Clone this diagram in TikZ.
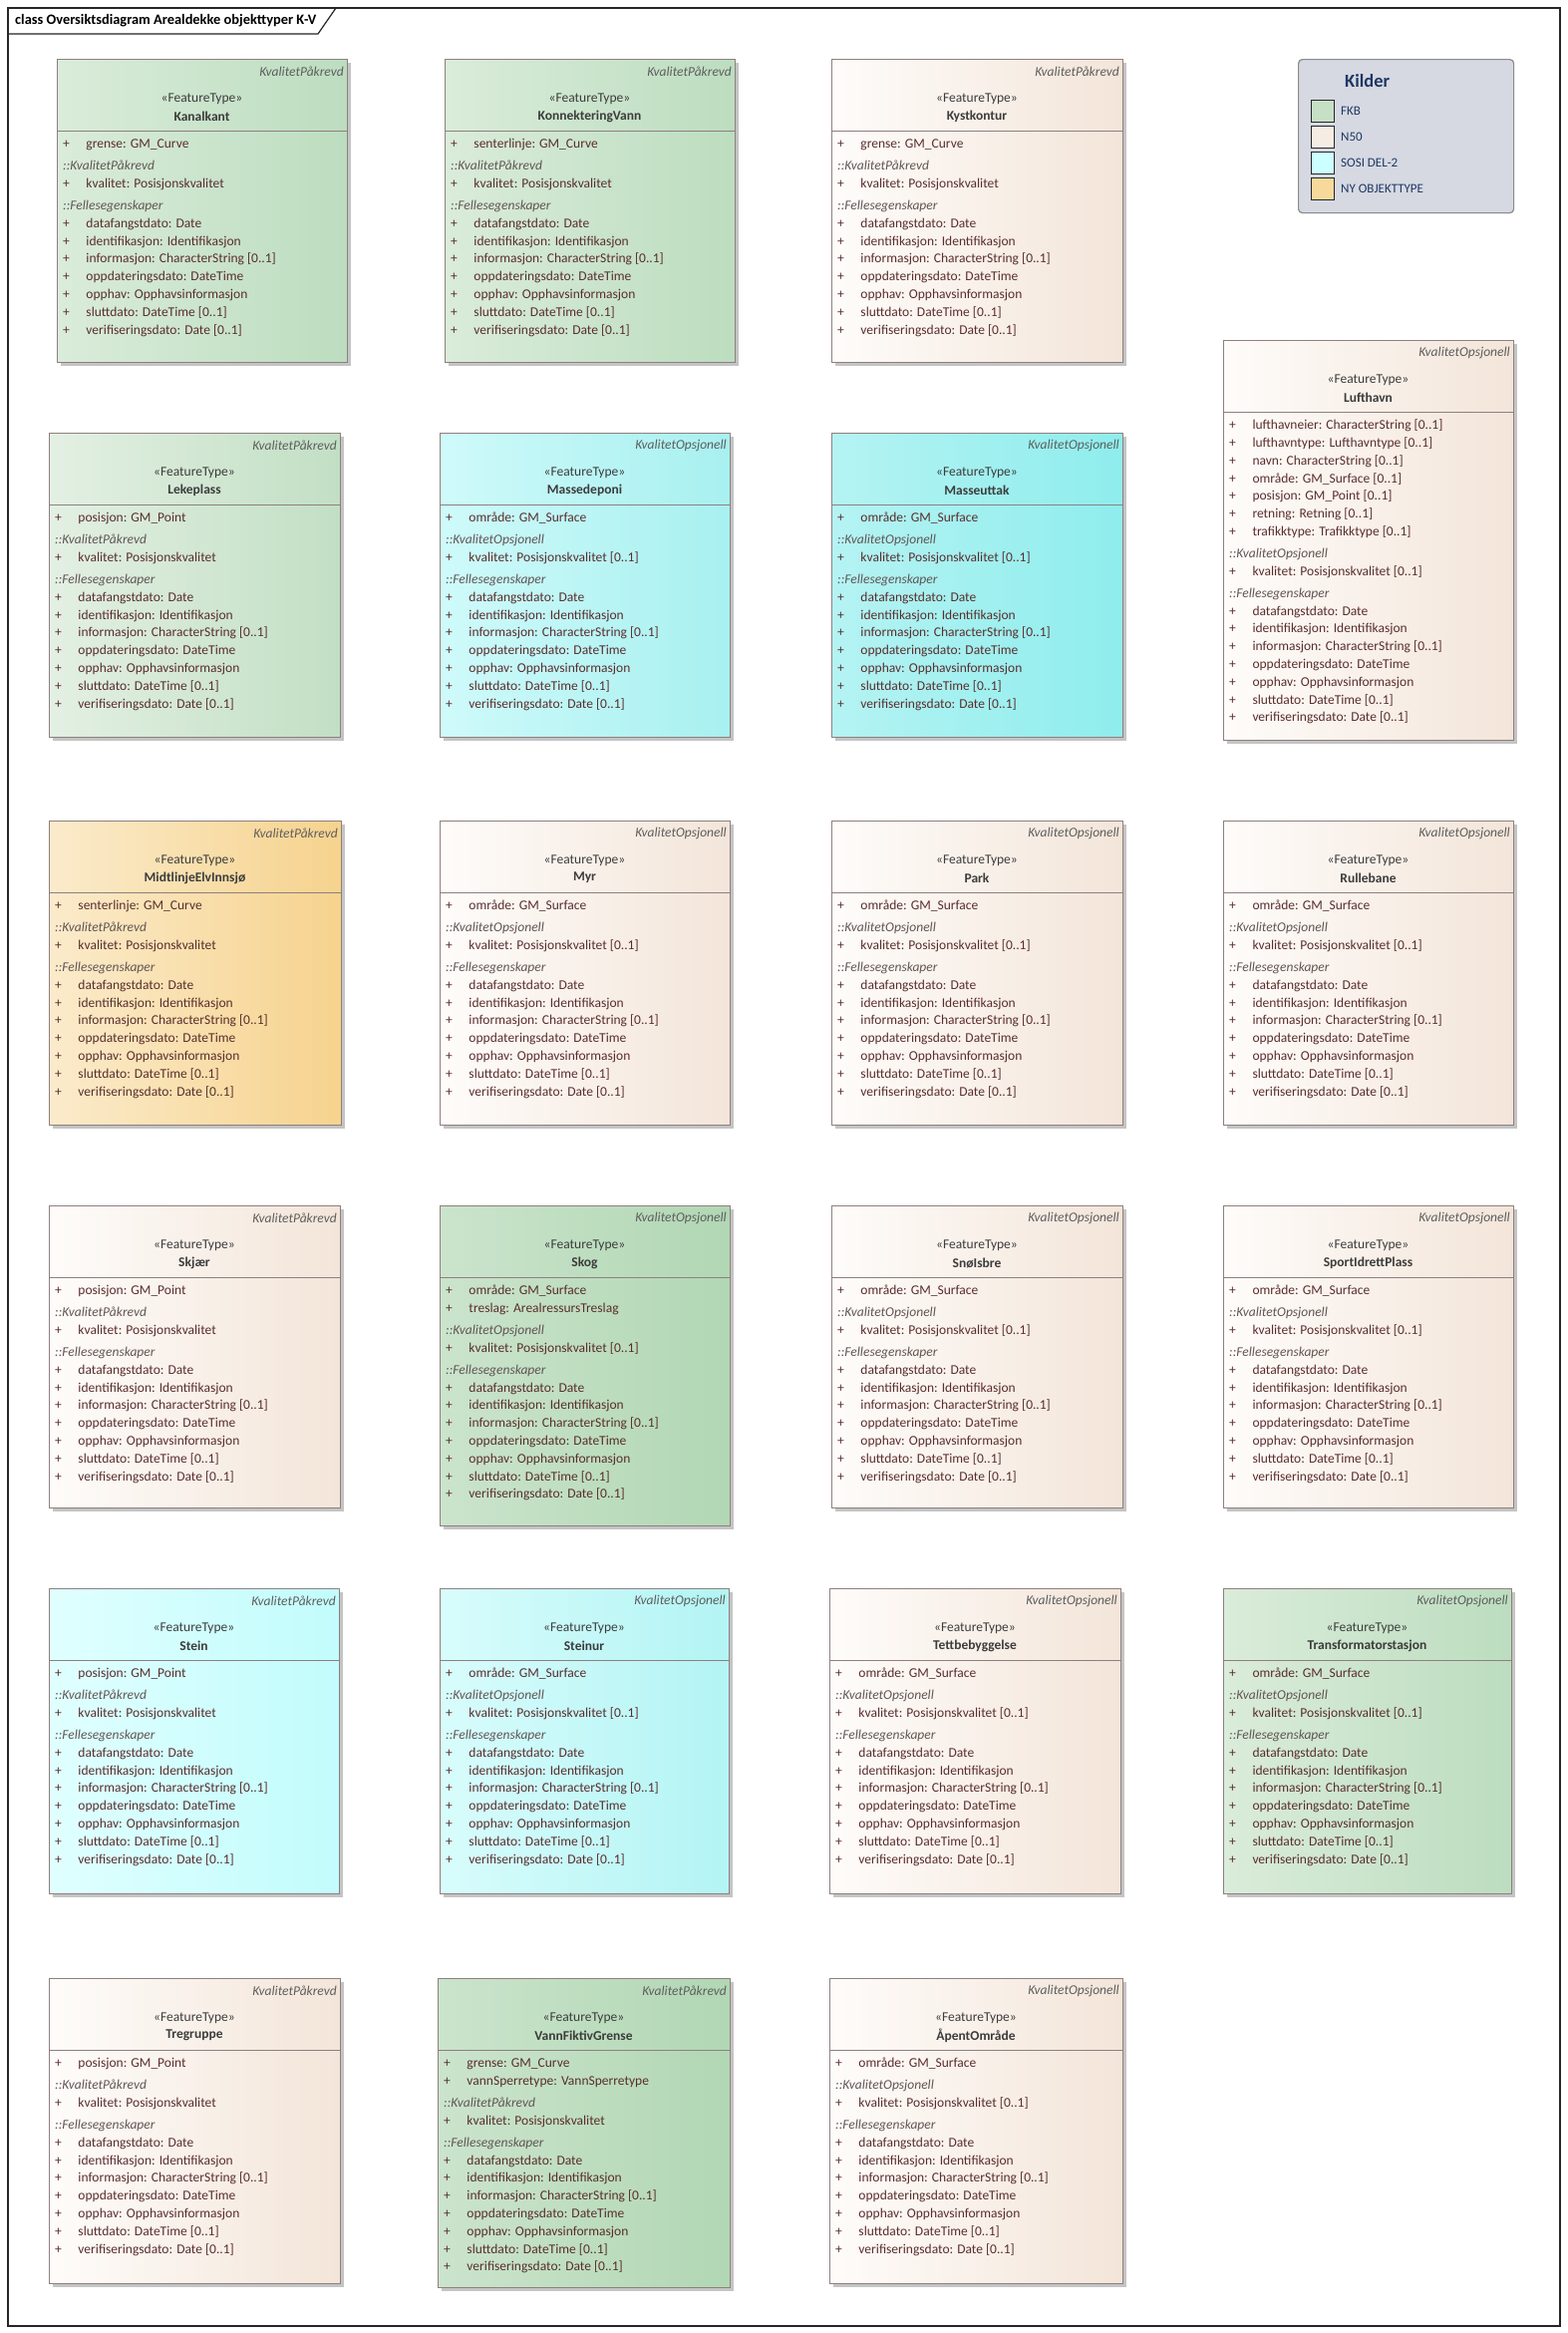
\documentclass[tikz,border=0pt]{standalone}
\usepackage{fontspec}
\setmainfont{Carlito}
\definecolor{bordc}{HTML}{8F7F7F}
\definecolor{shadowc}{HTML}{C4C4C4}
\definecolor{attrc}{HTML}{5A2E2E}
\definecolor{headc}{HTML}{3C3C3C}
\definecolor{tagc}{HTML}{5E5E5E}
\definecolor{secc}{HTML}{625555}
\definecolor{fkbL}{HTML}{DAECDA}\definecolor{fkbR}{HTML}{BCDDBF}
\definecolor{fkbLL}{HTML}{E3F0E3}\definecolor{fkbLR}{HTML}{C2DFC4}
\definecolor{fkbDL}{HTML}{CBE4CC}\definecolor{fkbDR}{HTML}{B1D7B4}
\definecolor{nL}{HTML}{FEFCFA}\definecolor{nR}{HTML}{F3E5D9}
\definecolor{sML}{HTML}{CFFAFA}\definecolor{sMR}{HTML}{A8F0F0}
\definecolor{sSL}{HTML}{B5F3F3}\definecolor{sSR}{HTML}{8FEDED}
\definecolor{sLL}{HTML}{E0FFFF}\definecolor{sLR}{HTML}{C2FCFC}
\definecolor{sL2L}{HTML}{D8FCFC}\definecolor{sL2R}{HTML}{B3F4F4}
\definecolor{nyL}{HTML}{FBEBCB}\definecolor{nyR}{HTML}{F6D38E}
\definecolor{legfill}{HTML}{D6D9E2}
\definecolor{legbord}{HTML}{8A8A8A}
\definecolor{legtext}{HTML}{1F3864}
\definecolor{swFKB}{HTML}{C6E0C6}
\definecolor{swN}{HTML}{F5EDE3}
\definecolor{swS}{HTML}{CCFFFF}
\definecolor{swNY}{HTML}{F7DA9B}
\newcommand{\attrline}[1]{\makebox[23.3pt][l]{+}#1}
\newcommand{\secline}[1]{\textit{\color{secc}#1}}
\newcommand{\kvalP}{\\[4.2pt]\secline{::KvalitetPåkrevd}\\\attrline{kvalitet: Posisjonskvalitet}}
\newcommand{\kvalO}{\\[4.2pt]\secline{::KvalitetOpsjonell}\\\attrline{kvalitet: Posisjonskvalitet [0..1]}}
\newcommand{\felles}{\\[4.2pt]\secline{::Fellesegenskaper}\\\attrline{datafangstdato: Date}\\\attrline{identifikasjon: Identifikasjon}\\\attrline{informasjon: CharacterString [0..1]}\\\attrline{oppdateringsdato: DateTime}\\\attrline{opphav: Opphavsinformasjon}\\\attrline{sluttdato: DateTime [0..1]}\\\attrline{verifiseringsdato: Date [0..1]}}
\tikzset{
  classbox/.style={draw=bordc, line width=1pt, inner sep=0pt, outer sep=0pt, anchor=north west, rectangle},
  fkb/.style={left color=fkbL, right color=fkbR},
  fkbl/.style={left color=fkbLL, right color=fkbLR},
  fkbd/.style={left color=fkbDL, right color=fkbDR},
  nfifty/.style={left color=nL, right color=nR},
  sosim/.style={left color=sML, right color=sMR},
  sosis/.style={left color=sSL, right color=sSR},
  sosil/.style={left color=sLL, right color=sLR},
  sosilb/.style={left color=sL2L, right color=sL2R},
  nyobj/.style={left color=nyL, right color=nyR},
  tagst/.style={font={\itshape\fontsize{13.5}{16}\selectfont}, text=tagc, inner sep=0pt, anchor=east},
  stereost/.style={font={\fontsize{13.5}{16}\selectfont}, text=headc, inner sep=0pt},
  namest/.style={font={\bfseries\fontsize{13.5}{16}\selectfont}, text=headc, inner sep=0pt},
  bodyst/.style={font={\fontsize{13.5}{17.8}\selectfont}, text=attrc, inner sep=0pt, anchor=north west, align=left},
  swatch/.style={draw=black!85, line width=1pt, minimum width=23pt, minimum height=22pt, inner sep=0pt},
  legtxt/.style={font={\fontsize{13}{15}\selectfont}, text=legtext, anchor=west, inner sep=0pt}
}
% #1 name, #2 L, #3 T, #4 R, #5 B, #6 colour style, #7 tag, #8 title, #9 body
\newcommand{\umlbox}[9]{%
  \fill[shadowc] (#2+4,#3+4) rectangle (#4+4,#5+4);
  \node[classbox,#6,minimum width={#4-#2},minimum height={#5-#3}] (#1) at (#2,#3) {};
  \draw[bordc, line width=1pt] ([yshift=-72pt]#1.north west) -- ([yshift=-72pt]#1.north east);
  \node[tagst] (#1-tag) at ([xshift=-3pt,yshift=-12.5pt]#1.north east) {#7};
  \node[stereost] (#1-st) at ([yshift=-40pt]#1.north) {«FeatureType»};
  \node[namest] (#1-nm) at ([yshift=-57.5pt]#1.north) {#8};
  \node[bodyst] (#1-body) at ([xshift=6pt,yshift=-78.5pt]#1.north west) {\rule{0pt}{11pt}#9};
}
\begin{document}
\begin{tikzpicture}[x=1pt,y=-1pt]
\useasboundingbox (0,0) rectangle (1573,2340);
\fill[white] (0,0) rectangle (1573,2340);
% frame
\node[draw=black!85, line width=1.2pt, minimum width=1557pt, minimum height=2325pt, anchor=north west, inner sep=0pt, outer sep=0pt] (frame) at (8,8) {};
\draw[black!85, line width=1.2pt] (8,34) -- (319,34) -- (337,8);
\node[font={\bfseries\fontsize{14.4}{16}\selectfont}, anchor=west, inner sep=0pt] (title) at (15,21) {class Oversiktsdiagram Arealdekke objekttyper K-V};

% legend
\node[draw=legbord, line width=1.2pt, fill=legfill, rounded corners=4pt, minimum width=216pt, minimum height=154pt, anchor=north west, inner sep=0pt] (legend) at (1302,59) {};
\node[font={\bfseries\fontsize{18.5}{20}\selectfont}, text=legtext, anchor=west, inner sep=0pt] (legend-title) at (1349,81) {Kilder};
\node[swatch, fill=swFKB] (sw1) at (1326.5,111) {};
\node[swatch, fill=swN] (sw2) at (1326.5,137.5) {};
\node[swatch, fill=swS] (sw3) at (1326.5,163) {};
\node[swatch, fill=swNY] (sw4) at (1326.5,189) {};
\node[legtxt] (lb1) at (1345,111) {FKB};
\node[legtxt] (lb2) at (1345,137.5) {N50};
\node[legtxt] (lb3) at (1345,163) {SOSI DEL-2};
\node[legtxt] (lb4) at (1345,189) {NY OBJEKTTYPE};

% row 1
\umlbox{kanalkant}{57}{59}{348}{363}{fkb}{KvalitetPåkrevd}{Kanalkant}{\attrline{grense: GM\_Curve}\kvalP\felles}
\umlbox{konnektering}{446}{59}{737}{363}{fkb}{KvalitetPåkrevd}{KonnekteringVann}{\attrline{senterlinje: GM\_Curve}\kvalP\felles}
\umlbox{kystkontur}{834}{59}{1126}{363}{nfifty}{KvalitetPåkrevd}{Kystkontur}{\attrline{grense: GM\_Curve}\kvalP\felles}
\umlbox{lufthavn}{1227}{341}{1518}{742}{nfifty}{KvalitetOpsjonell}{Lufthavn}{\attrline{lufthavneier: CharacterString [0..1]}\\\attrline{lufthavntype: Lufthavntype [0..1]}\\\attrline{navn: CharacterString [0..1]}\\\attrline{område: GM\_Surface [0..1]}\\\attrline{posisjon: GM\_Point [0..1]}\\\attrline{retning: Retning [0..1]}\\\attrline{trafikktype: Trafikktype [0..1]}\kvalO\felles}
% row 2
\umlbox{lekeplass}{49}{434}{341}{739}{fkbl}{KvalitetPåkrevd}{Lekeplass}{\attrline{posisjon: GM\_Point}\kvalP\felles}
\umlbox{massedeponi}{441}{434}{732}{739}{sosim}{KvalitetOpsjonell}{Massedeponi}{\attrline{område: GM\_Surface}\kvalO\felles}
\umlbox{masseuttak}{834}{434}{1126}{739}{sosis}{KvalitetOpsjonell}{Masseuttak}{\attrline{område: GM\_Surface}\kvalO\felles}
% row 3
\umlbox{midtlinje}{49}{823}{342}{1128}{nyobj}{KvalitetPåkrevd}{MidtlinjeElvInnsjø}{\attrline{senterlinje: GM\_Curve}\kvalP\felles}
\umlbox{myr}{441}{823}{732}{1128}{nfifty}{KvalitetOpsjonell}{Myr}{\attrline{område: GM\_Surface}\kvalO\felles}
\umlbox{park}{834}{823}{1126}{1128}{nfifty}{KvalitetOpsjonell}{Park}{\attrline{område: GM\_Surface}\kvalO\felles}
\umlbox{rullebane}{1227}{823}{1518}{1128}{nfifty}{KvalitetOpsjonell}{Rullebane}{\attrline{område: GM\_Surface}\kvalO\felles}
% row 4
\umlbox{skjaer}{49}{1209}{341}{1512}{nfifty}{KvalitetPåkrevd}{Skjær}{\attrline{posisjon: GM\_Point}\kvalP\felles}
\umlbox{skog}{441}{1209}{732}{1530}{fkbd}{KvalitetOpsjonell}{Skog}{\attrline{område: GM\_Surface}\\\attrline{treslag: ArealressursTreslag}\kvalO\felles}
\umlbox{snoisbre}{834}{1209}{1126}{1512}{nfifty}{KvalitetOpsjonell}{SnøIsbre}{\attrline{område: GM\_Surface}\kvalO\felles}
\umlbox{sportidrett}{1227}{1209}{1518}{1512}{nfifty}{KvalitetOpsjonell}{SportIdrettPlass}{\attrline{område: GM\_Surface}\kvalO\felles}
% row 5
\umlbox{stein}{49}{1593}{340}{1899}{sosil}{KvalitetPåkrevd}{Stein}{\attrline{posisjon: GM\_Point}\kvalP\felles}
\umlbox{steinur}{441}{1593}{731}{1899}{sosilb}{KvalitetOpsjonell}{Steinur}{\attrline{område: GM\_Surface}\kvalO\felles}
\umlbox{tettbebyggelse}{832}{1593}{1124}{1899}{nfifty}{KvalitetOpsjonell}{Tettbebyggelse}{\attrline{område: GM\_Surface}\kvalO\felles}
\umlbox{transformator}{1227}{1593}{1516}{1899}{fkb}{KvalitetOpsjonell}{Transformatorstasjon}{\attrline{område: GM\_Surface}\kvalO\felles}
% row 6
\umlbox{tregruppe}{49}{1984}{341}{2290}{nfifty}{KvalitetPåkrevd}{Tregruppe}{\attrline{posisjon: GM\_Point}\kvalP\felles}
\umlbox{vannfiktiv}{439}{1984}{732}{2294}{fkbd}{KvalitetPåkrevd}{VannFiktivGrense}{\attrline{grense: GM\_Curve}\\\attrline{vannSperretype: VannSperretype}\kvalP\felles}
\umlbox{apent}{832}{1984}{1126}{2290}{nfifty}{KvalitetOpsjonell}{ÅpentOmråde}{\attrline{område: GM\_Surface}\kvalO\felles}
\end{tikzpicture}
\end{document}
